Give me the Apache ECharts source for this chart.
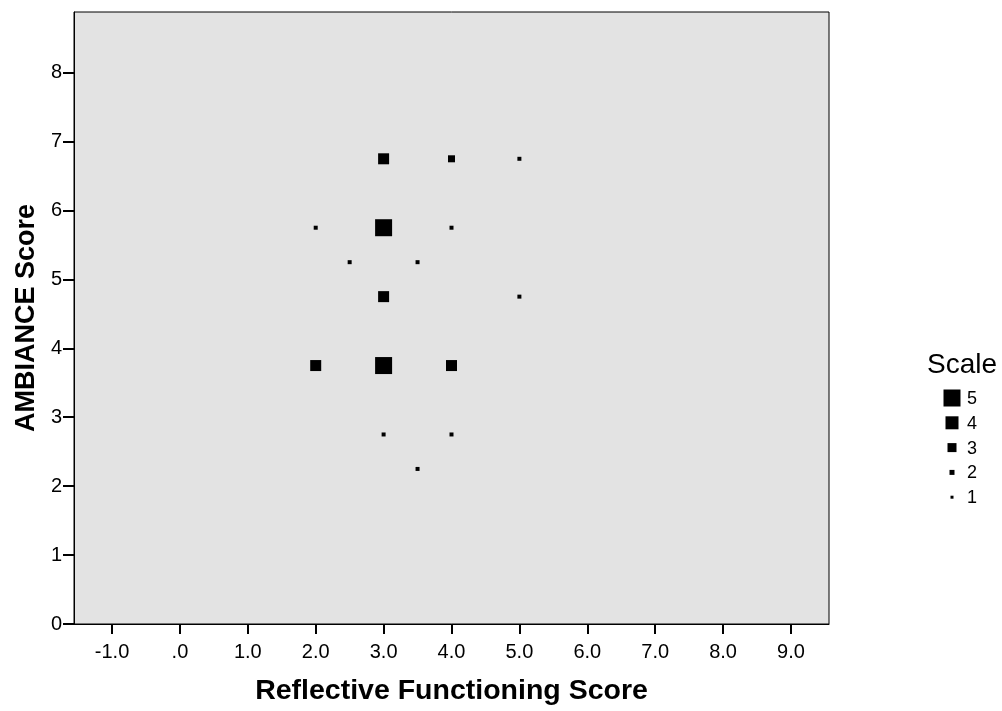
<!DOCTYPE html>
<html>
<head>
<meta charset="utf-8">
<script src="https://cdn.jsdelivr.net/npm/echarts@6/dist/echarts.min.js"></script>
<style>
  html, body { margin: 0; padding: 0; background: #fff; }
  #chart { width: 1002px; height: 711px; }
</style>
</head>
<body>
<div id="chart"></div>
<script>
// data
var rfScore = [3, 4, 5, 2, 3, 4, 2.5, 3.5, 3, 5, 2, 3, 4, 3, 4, 3.5];
var ambScore = [6.75, 6.75, 6.75, 5.75, 5.75, 5.75, 5.25, 5.25, 4.75, 4.75, 3.75, 3.75, 3.75, 2.75, 2.75, 2.25];
var scale = [3, 2, 1, 1, 5, 1, 1, 1, 3, 1, 3, 5, 3, 1, 1, 1];
var xTicks = [-1, 0, 1, 2, 3, 4, 5, 6, 7, 8, 9];
var yTicks = [0, 1, 2, 3, 4, 5, 6, 7, 8];
var legendLevels = [5, 4, 3, 2, 1];

(function () {
  var myChart = echarts.init(document.getElementById('chart'));
  var font = '"Liberation Sans", Arial, sans-serif';
  var plotSize = { 1: 4, 2: 7, 3: 11, 4: 14, 5: 17 };
  var keySize = { 1: 3, 2: 5, 3: 9, 4: 13, 5: 17 };

  var pts = rfScore.map(function (x, i) { return [x, ambScore[i], scale[i]]; });

  // legend drawn as graphic items
  var graphics = [{
    type: 'text', x: 927, y: 365,
    style: { text: 'Scale', font: '28px ' + font, fill: '#000', verticalAlign: 'middle' }
  }];
  legendLevels.forEach(function (lv, i) {
    var cy = 398 + i * 24.8;
    var s = keySize[lv];
    graphics.push({
      type: 'rect',
      shape: { x: 952 - s / 2, y: cy - s / 2, width: s, height: s },
      style: { fill: '#000' }
    });
    graphics.push({
      type: 'text', x: 967, y: cy + 1,
      style: { text: String(lv), font: '18px ' + font, fill: '#000', verticalAlign: 'middle' }
    });
  });

  var option = {
    animation: false,
    textStyle: { fontFamily: font },
    grid: {
      left: 74, right: 173, top: 12, bottom: 86,
      show: true, backgroundColor: '#e3e3e3', borderColor: '#000', borderWidth: 1
    },
    xAxis: {
      type: 'value', min: -1.56, max: 9.56,
      name: 'Reflective Functioning Score', nameLocation: 'middle', nameGap: 53,
      nameTextStyle: { fontSize: 28.5, fontWeight: 'bold', color: '#000' },
      axisLine: { show: true, onZero: false, lineStyle: { color: '#000', width: 1 } },
      axisTick: { show: true, length: 10, customValues: xTicks, lineStyle: { color: '#000', width: 2 } },
      axisLabel: {
        customValues: xTicks, fontSize: 20, color: '#000', margin: 18,
        formatter: function (v) { return v === 0 ? '.0' : v.toFixed(1); }
      },
      splitLine: { show: false }
    },
    yAxis: {
      type: 'value', min: 0, max: 8.88,
      name: 'AMBIANCE Score', nameLocation: 'middle', nameGap: 33,
      nameTextStyle: { fontSize: 27, fontWeight: 'bold', color: '#000' },
      axisLine: { show: true, onZero: false, lineStyle: { color: '#000', width: 1 } },
      axisTick: { show: true, length: 11, customValues: yTicks, lineStyle: { color: '#000', width: 2 } },
      axisLabel: { customValues: yTicks, fontSize: 20, color: '#000', margin: 12 },
      splitLine: { show: false }
    },
    graphic: graphics,
    series: [{
      type: 'scatter',
      symbol: 'rect',
      data: pts,
      symbolSize: function (d) { return plotSize[d[2]]; },
      itemStyle: { color: '#000', opacity: 1 }
    }]
  };

  myChart.setOption(option);
  window.addEventListener('resize', function () {
    myChart.resize();
  });
})();
</script>
</body>
</html>
